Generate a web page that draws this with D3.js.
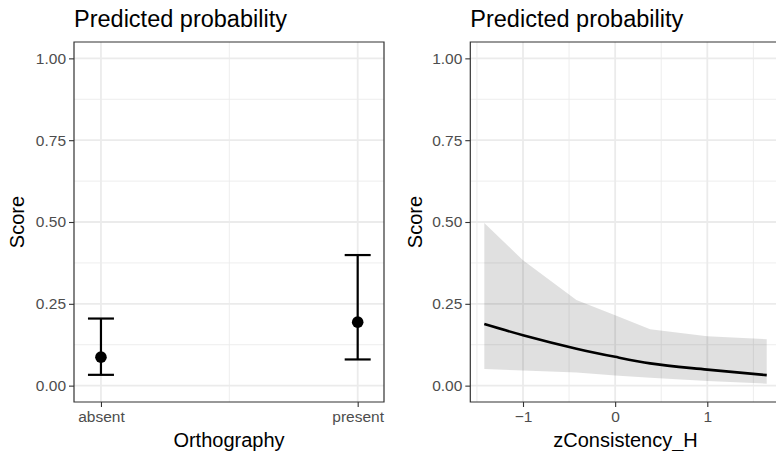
<!DOCTYPE html>
<html>
<head>
<meta charset="utf-8">
<script src="https://cdn.jsdelivr.net/npm/d3@7"></script>
<style>
  body { margin: 0; background: #fff; }
  text { font-family: "Liberation Sans", Arial, sans-serif; }
</style>
</head>
<body>
<div id="chart"></div>
<script>
var W = 776, H = 451;

// left panel: predicted probability by Orthography
var groups = ["absent", "present"];
var groupPos = [1, 2];
var predicted = [0.087, 0.194];
var lowCI = [0.033, 0.080];
var highCI = [0.205, 0.399];

// right panel: predicted probability along zConsistency_H
var zVals = [-1.42, -1.0, -0.42, 0, 0.38, 1.0, 1.645];
var zFit = [0.188, 0.154, 0.113, 0.088, 0.068, 0.049, 0.032];
var zLow = [0.051, 0.046, 0.040, 0.031, 0.024, 0.014, 0.006];
var zHigh = [0.497, 0.383, 0.262, 0.215, 0.172, 0.151, 0.142];

var yTicks = [0, 0.25, 0.5, 0.75, 1];
var yMinor = [0.125, 0.375, 0.625, 0.875];
var zTicks = [-1, 0, 1];
var zMinor = [-1.5, -0.5, 0.5, 1.5];

var pTop = 42, pBottom = 402;
var gridCol = "#EBEBEB", borderCol = "#333333", tickCol = "#4D4D4D";

var svg = d3.select("#chart").append("svg")
    .attr("width", W)
    .attr("height", H);

var yScale = d3.scaleLinear()
    .domain([-0.05, 1.05])
    .range([pBottom, pTop]);

function panel(left, right, xScale, majorX, minorX, xLabels, xTitle, hasRight) {
  var g = svg.append("g");

  // minor grid
  minorX.forEach(function(d) {
    g.append("line").attr("x1", xScale(d)).attr("x2", xScale(d))
      .attr("y1", pTop).attr("y2", pBottom)
      .attr("stroke", gridCol).attr("stroke-width", 0.9);
  });
  yMinor.forEach(function(d) {
    g.append("line").attr("x1", left).attr("x2", right)
      .attr("y1", yScale(d)).attr("y2", yScale(d))
      .attr("stroke", gridCol).attr("stroke-width", 0.9);
  });
  // major grid
  majorX.forEach(function(d) {
    g.append("line").attr("x1", xScale(d)).attr("x2", xScale(d))
      .attr("y1", pTop).attr("y2", pBottom)
      .attr("stroke", gridCol).attr("stroke-width", 1.8);
  });
  yTicks.forEach(function(d) {
    g.append("line").attr("x1", left).attr("x2", right)
      .attr("y1", yScale(d)).attr("y2", yScale(d))
      .attr("stroke", gridCol).attr("stroke-width", 1.8);
  });

  // axes
  var yAxis = d3.axisLeft(yScale).tickValues(yTicks)
      .tickFormat(d3.format(".2f")).tickSize(5).tickPadding(3);
  var ya = svg.append("g").attr("transform", "translate(" + left + ",0)").call(yAxis);
  var xAxis = d3.axisBottom(xScale).tickValues(majorX)
      .tickFormat(function(d, i) { return xLabels[i]; }).tickSize(5).tickPadding(4);
  var xa = svg.append("g").attr("transform", "translate(0," + pBottom + ")").call(xAxis);
  [ya, xa].forEach(function(a) {
    a.select(".domain").remove();
    a.selectAll(".tick line").attr("stroke", borderCol).attr("stroke-width", 1.1);
    a.selectAll(".tick text").attr("fill", tickCol)
      .style("font-size", "15.5px").style("font-family", "Liberation Sans, Arial, sans-serif");
  });

  // border
  var b = svg.append("path")
    .attr("fill", "none").attr("stroke", borderCol).attr("stroke-width", 1.2);
  if (hasRight) {
    b.attr("d", "M" + left + "," + pTop + "H" + right + "V" + pBottom + "H" + left + "Z");
  } else {
    b.attr("d", "M" + (right + 5) + "," + pTop + "H" + left + "V" + pBottom + "H" + (right + 5));
  }

  // titles
  svg.append("text").attr("x", left).attr("y", 27)
    .style("font-size", "23.5px").attr("fill", "#000").text("Predicted probability");
  svg.append("text").attr("x", (left + right) / 2).attr("y", 447)
    .attr("text-anchor", "middle").style("font-size", "20px").text(xTitle);

  return g;
}

// left
var xLeft = d3.scaleLinear().domain([0.895, 2.1025]).range([74, 384]);
panel(74, 384, xLeft, groupPos, [1.5], groups, "Orthography", true);
svg.append("text")
  .attr("transform", "translate(24," + ((pTop + pBottom) / 2) + ") rotate(-90)")
  .attr("text-anchor", "middle").style("font-size", "20px").text("Score");

var eb = svg.append("g");
groupPos.forEach(function(p, i) {
  var x = xLeft(p);
  eb.append("line").attr("x1", x).attr("x2", x)
    .attr("y1", yScale(lowCI[i])).attr("y2", yScale(highCI[i]))
    .attr("stroke", "#000").attr("stroke-width", 2.2);
  [lowCI[i], highCI[i]].forEach(function(v) {
    eb.append("line").attr("x1", x - 13).attr("x2", x + 13)
      .attr("y1", yScale(v)).attr("y2", yScale(v))
      .attr("stroke", "#000").attr("stroke-width", 2.2);
  });
  eb.append("circle").attr("cx", x).attr("cy", yScale(predicted[i]))
    .attr("r", 5.8).attr("fill", "#000");
});

// right
var xRight = d3.scaleLinear().domain([-1, 1]).range([523, 707.3]);
var rightEdge = xRight(1.798);
var rg = panel(470.3, rightEdge, xRight, zTicks, zMinor, ["\u22121", "0", "1"], "zConsistency_H", false);
svg.append("text")
  .attr("transform", "translate(421.5," + ((pTop + pBottom) / 2) + ") rotate(-90)")
  .attr("text-anchor", "middle").style("font-size", "20px").text("Score");

var band = d3.area()
  .x(function(d, i) { return xRight(zVals[i]); })
  .y0(function(d, i) { return yScale(zLow[i]); })
  .y1(function(d, i) { return yScale(zHigh[i]); });
rg.append("path").datum(zVals).attr("d", band)
  .attr("fill", "#000").attr("fill-opacity", 0.12);

var fitLine = d3.line()
  .x(function(d, i) { return xRight(zVals[i]); })
  .y(function(d, i) { return yScale(zFit[i]); })
  .curve(d3.curveMonotoneX);
rg.append("path").datum(zVals).attr("d", fitLine)
  .attr("fill", "none").attr("stroke", "#000").attr("stroke-width", 2.6);
</script>
</body>
</html>
